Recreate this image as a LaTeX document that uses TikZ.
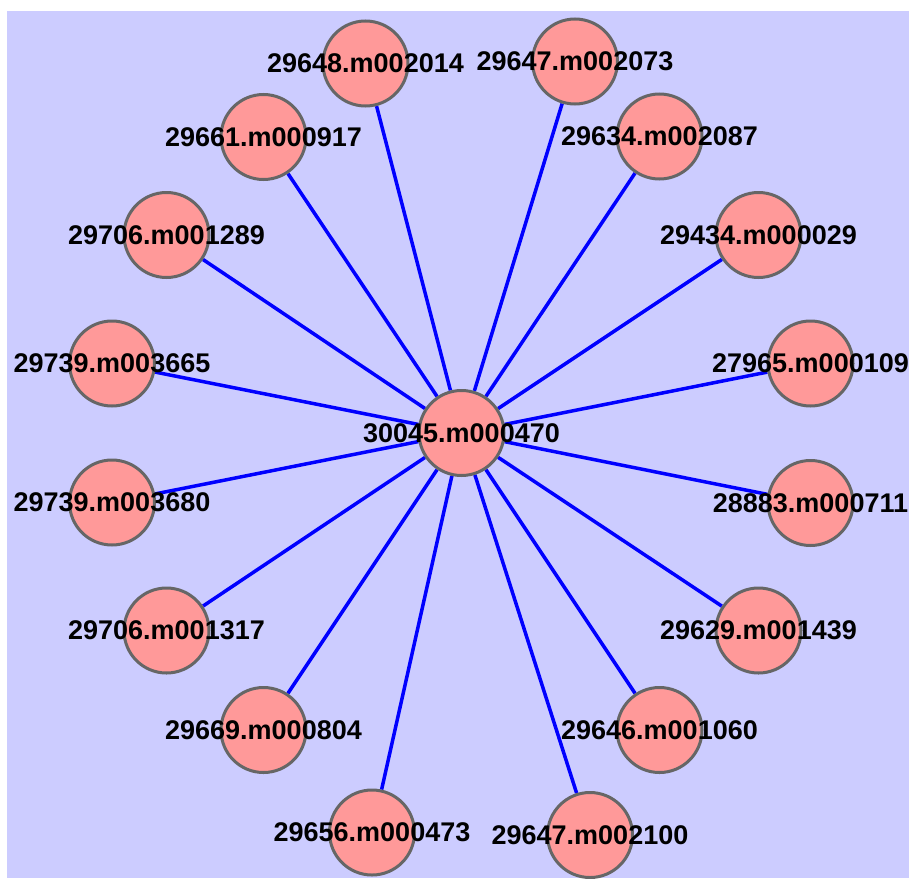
\documentclass[tikz,border=0pt]{standalone}
\usepackage{fontspec}
\setmainfont{Liberation Sans}
\usetikzlibrary{backgrounds}

\definecolor{canvas}{HTML}{CCCCFF}
\definecolor{genefill}{HTML}{FF9999}
\definecolor{generim}{HTML}{666666}
\definecolor{linkblue}{HTML}{0000FF}

\tikzset{
    gene/.style={circle, draw=generim, line width=3pt, fill=genefill,
        minimum size=85pt, inner sep=0pt},
    tag/.style={font=\fontsize{27}{29}\selectfont\bfseries, text=black, inner sep=0pt},
    link/.style={draw=linkblue, line width=3.5pt},
}

\begin{document}
\begin{tikzpicture}[x=1pt,y=-1pt]
        \useasboundingbox (0,0) rectangle (909,878);
        \begin{scope}[on background layer]
            \fill[canvas] (7,11) rectangle (909,878);
        \end{scope}

        % hub
        \node[gene, label={[tag]center:30045.m000470}] (hub) at (461.5,433) {};

        % ring of partners
        \foreach \n/\x/\y/\t in {
            g1/365.5/63.5/29648.m002014,
            g2/575/61.5/29647.m002073,
            g3/263.5/137/29661.m000917,
            g4/659.5/136.5/29634.m002087,
            g5/166.5/235/29706.m001289,
            g6/758.5/235/29434.m000029,
            g7/112/363.5/29739.m003665,
            g8/810.5/363.5/27965.m000109,
            g9/112/502.5/29739.m003680,
            g10/810.5/503/28883.m000711,
            g11/166.5/630.5/29706.m001317,
            g12/758.5/630.5/29629.m001439,
            g13/263.5/730/29669.m000804,
            g14/659.5/730/29646.m001060,
            g15/372/832.5/29656.m000473,
            g16/590/835/29647.m002100} {
                \node[gene, label={[tag]center:\t}] (\n) at (\x,\y) {};
                \begin{pgfonlayer}{background}
                    \draw[link] (hub) -- (\n);
                \end{pgfonlayer}
        }
\end{tikzpicture}
\end{document}
